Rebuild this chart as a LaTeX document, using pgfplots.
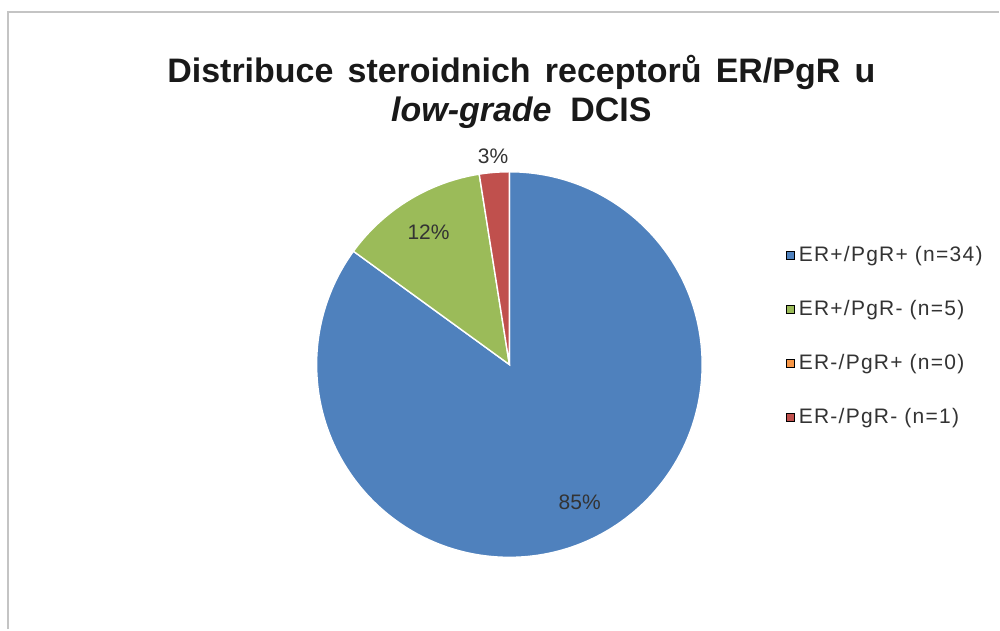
\documentclass[border=0pt]{standalone}
\usepackage{pgfplots}
\pgfplotsset{compat=1.18}
\usepackage{pgfplotstable}
\usepackage{fontspec}
\setmainfont{Liberation Sans}
\newfontfamily\legfont[LetterSpace=6]{Liberation Sans}

\definecolor{sBlue}{HTML}{4F81BD}
\definecolor{sGreen}{HTML}{9BBB59}
\definecolor{sOrange}{HTML}{F79646}
\definecolor{sRed}{HTML}{C0504D}
\definecolor{frameGray}{HTML}{C4C4C4}

% receptor groups: patient counts, printed share, slice colour
\pgfplotstableread[col sep=comma]{
n,pct,col
34,85,sBlue
5,12,sGreen
0,0,sOrange
1,3,sRed
}\piedata

\begin{document}
\begin{tikzpicture}
\fill[white] (0,0) rectangle (500pt,315pt);
\begin{axis}[
  x=0.5pt, y=0.5pt,
  xmin=0, xmax=1000, ymin=0, ymax=630,
  hide axis, clip=false,
  legend cell align=left,
  legend style={draw=none, fill=none, font=\legfont\fontsize{10.5}{12}\selectfont,
    text=black!80, row sep=14pt,
    at={(axis cs:781,392)}, anchor=north west,
    /tikz/every even column/.append style={column sep=1pt}},
  pieleg/.style={legend image code/.code={\fill[##1] (0pt,-1.9pt) rectangle (3.8pt,1.9pt);}},
]
% frame of the chart area
\draw[frameGray, line width=1.2pt] (axis cs:8,0) -- (axis cs:8,618) -- (axis cs:1000,618);

\pgfplotsextra{
  \pgfplotstablegetrowsof{\piedata}
  \pgfmathtruncatemacro\lastrow{\pgfplotsretval-1}
  % total count
  \gdef\pietotal{0}
  \foreach \i in {0,...,\lastrow}{
    \pgfplotstablegetelem{\i}{n}\of\piedata
    \pgfmathsetmacro\tmp{\pietotal+\pgfplotsretval}
    \xdef\pietotal{\tmp}
  }
  % slices, clockwise from twelve o'clock
  \gdef\pieangle{90}
  \foreach \i in {0,...,\lastrow}{
    \pgfplotstablegetelem{\i}{n}\of\piedata \let\cnt\pgfplotsretval
    \pgfplotstablegetelem{\i}{pct}\of\piedata \let\lab\pgfplotsretval
    \pgfplotstablegetelem{\i}{col}\of\piedata \let\scol\pgfplotsretval
    \pgfmathsetmacro\sweep{360*\cnt/\pietotal}
    \pgfmathsetmacro\endang{\pieangle-\sweep}
    \pgfmathsetmacro\midang{\pieangle-\sweep/2}
    \ifdim\sweep pt>0pt
      \fill[\scol, draw=white, line width=0.7pt] (axis cs:510,265) -- ++(\pieangle:96.5pt)
        arc[start angle=\pieangle, end angle=\endang, radius=96.5pt] -- cycle;
      \ifdim\sweep pt<18pt
        \path (axis cs:510,265) ++(\midang:104.5pt) node[font=\fontsize{10.5}{12}\selectfont, text=black!80] {\lab\%};
      \else
        \path (axis cs:510,265) ++(\midang:77.5pt) node[font=\fontsize{10.5}{12}\selectfont, text=black!80] {\lab\%};
      \fi
    \fi
    \xdef\pieangle{\endang}
  }
}

\addlegendimage{pieleg, fill=sBlue}\addlegendentry{ER+/PgR+ (n=34)}
\addlegendimage{pieleg, fill=sGreen}\addlegendentry{ER+/PgR- (n=5)}
\addlegendimage{pieleg, fill=sOrange}\addlegendentry{ER-/PgR+ (n=0)}
\addlegendimage{pieleg, fill=sRed}\addlegendentry{ER-/PgR- (n=1)}

\node[font=\bfseries\fontsize{17}{19.5}\selectfont, align=center, text=black!90]
  at (axis cs:522,538)
  {\spaceskip=0.42em Distribuce steroidnich receptorů ER/PgR u\\\textit{low-grade}\ \ DCIS};
\end{axis}
\end{tikzpicture}
\end{document}
